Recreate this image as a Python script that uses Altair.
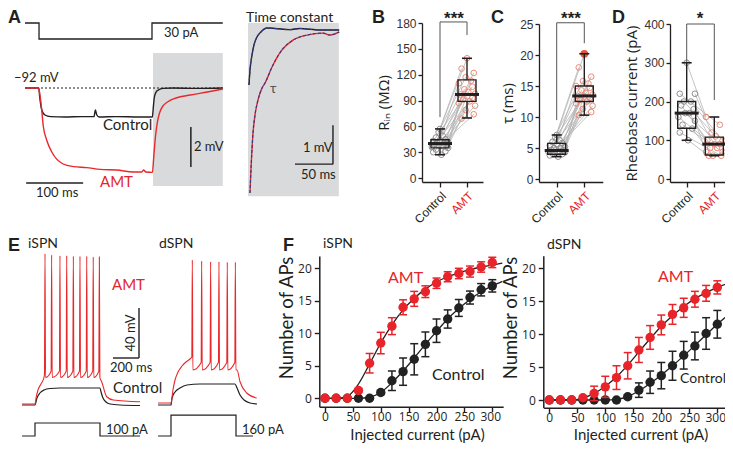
import altair as alt
import pandas as pd

M = 8
W, H = 717, 435
FONT = "Lato"
TFONT = "Open Sans"
AXFONT = "Liberation Sans"
RED = "#e3262b"
BLK = "#231f20"
GRAYBG = "#d9dadb"
NAVY = "#2e3a8c"

# ---------------- Panel A : hyperpolarising step ----------------
a_cmd_t = [0, 24.6, 24.6, 222.8, 222.8, 347]
a_cmd_i = [0, 0, -30, -30, 0, 0]
a_ctrl_t = [0, 24, 26, 29, 35, 45, 70, 100, 121, 123.5, 126, 130, 160, 200, 223.5, 225, 227, 230, 234, 242, 260, 300, 347]
a_ctrl_v = [-92.0, -92.0, -92.5, -93.05, -93.35, -93.43, -93.45, -93.43, -93.43, -93.1, -93.35, -93.45, -93.43,
            -93.45, -93.45, -93.0, -92.45, -92.2, -92.1, -92.02, -92.0, -92.02, -92.0]
a_amt_t = [0, 24, 26, 29, 32, 38, 47, 56, 67, 85, 108, 132, 161, 190, 205, 208, 212, 223.5, 226, 229, 232, 236,
           242, 250, 265, 290, 320, 347]
a_amt_v = [-92.0, -92.0, -92.3, -93.0, -93.9, -94.6, -95.2, -95.57, -95.8, -95.93, -95.98, -96.07, -96.1, -96.2,
           -96.2, -96.1, -96.2, -96.22, -95.4, -94.4, -93.75, -93.25, -92.9, -92.7, -92.5, -92.35, -92.2, -92.05]

# ---------------- Time constant inset ----------------
tc_ctrl_t = [1.3, 2.6, 5.3, 7.9, 11.8, 17, 25, 35.5, 55, 68, 95, 120]
tc_ctrl_v = [-1.41, -1.03, -0.64, -0.38, -0.18, -0.05, 0.05, 0.04, 0.01, 0.04, 0.0, 0.0]
tc_amt_t = [2.6, 3.9, 6.6, 9.2, 13.2, 18.4, 22.4, 31.6, 44.7, 59.2, 77.6, 98.7, 108, 120]
tc_amt_v = [-4.18, -3.59, -2.64, -2.18, -1.79, -1.49, -1.36, -0.95, -0.51, -0.26, -0.13, -0.08, -0.13, -0.05]

# ---------------- Panels B, C, D : paired values ----------------
groups = [0, 1]
rin_ctrl = [27, 30, 31, 33, 35, 36, 37, 38, 39, 39, 40, 41, 42, 43, 44, 45, 47, 49, 53, 57]
rin_amt = [69, 74, 79, 84, 87, 89, 91, 93, 95, 97, 98, 100, 103, 106, 110, 113, 117, 122, 127, 139]
rin_box = dict(lo=[27, 69.7], q1=[35, 89], med=[40, 97], q3=[44.5, 114], hi=[57, 139])

tau_ctrl = [3.6, 3.8, 4.0, 4.1, 4.3, 4.4, 4.5, 4.6, 4.6, 4.7, 4.9, 5.0, 5.2, 5.4, 5.6, 5.8, 6.0, 6.3, 6.7, 7.1]
tau_amt = [10.3, 10.8, 11.3, 11.8, 12.2, 12.5, 12.8, 13.1, 13.3, 13.4, 13.6, 13.9, 14.3, 14.7, 15.0, 15.4, 15.8,
           16.5, 18.0, 20.2]
tau_box = dict(lo=[3.6, 10.3], q1=[4.0, 12.5], med=[4.6, 13.4], q3=[5.75, 15.0], hi=[7.1, 20.2])

rheo_ctrl = [100, 120, 130, 140, 150, 160, 170, 170, 180, 190, 200, 200, 220, 220, 300]
rheo_amt = [60, 60, 60, 70, 70, 80, 80, 90, 90, 100, 100, 110, 120, 140, 160]
rheo_box = dict(lo=[100, 60], q1=[131, 62], med=[170, 90], q3=[200, 108], hi=[300, 160])

jit_c = [0.05, -0.25, 0.2, -0.15, 0.3, -0.3, 0.1, -0.05, 0.25, -0.2, 0.15, -0.1, 0.3, -0.25, 0.0, 0.2, -0.15, 0.1,
         -0.05, 0.0]
jit_a = [-0.2, 0.25, -0.05, 0.3, -0.3, 0.1, -0.15, 0.2, 0.0, -0.25, 0.3, 0.05, -0.1, 0.2, -0.3, 0.15, -0.05, 0.25,
         -0.2, 0.0]

# ---------------- Panel E : spike trains ----------------
e_i_stim_t = [0, 100, 100, 600, 600, 908]
e_i_stim = [0, 0, 100, 100, 0, 0]
e_d_stim_t = [0, 100, 100, 600, 600, 731]
e_d_stim = [0, 0, 160, 160, 0, 0]

e_i_ctrl_t = [0, 100, 115, 138, 169, 215, 292, 450, 600, 608, 623, 646, 677, 754, 908]
e_i_ctrl_v = [-80, -80, -74.4, -70.4, -68, -66.8, -66.4, -66.4, -66.4, -69.6, -74.4, -77.6, -79.2, -80, -80.4]
e_i_start_t = [0, 100, 108, 123, 146, 169]
e_i_start_v = [-79.2, -79.2, -74.4, -68, -63.2, -58]
e_i_spk = [177, 228, 292, 344, 395, 446, 498, 548, 595]
e_i_pre = [-55, -53, -53, -53, -53, -53, -53, -53, -53]
e_i_peak = [41, 40, 39.5, 39.5, 39, 39, 39, 38.5, 38.5]
e_i_trough = [-58, -58, -58, -58, -58, -58, -58, -58, -58]
e_i_end_t = [613, 652, 702, 908]
e_i_end_v = [-61.4, -73.4, -76, -77.4]

e_d_ctrl_t = [0, 100, 108, 131, 169, 223, 323, 592, 608, 631, 662, 708, 762]
e_d_ctrl_v = [-80, -80, -74.4, -69.6, -66.4, -64, -63.2, -63.2, -66.4, -72, -76, -78.4, -79.2]
e_d_start_t = [0, 100, 115, 131, 154, 185, 215, 246]
e_d_start_v = [-78.4, -78.4, -68, -60, -53.6, -48.8, -45.6, -43.2]
e_d_spk = [264, 336, 405, 469, 533, 595]
e_d_pre = [-41.5, -46, -46, -46, -46, -46]
e_d_peak = [36, 35.2, 34.6, 34.6, 34.2, 34.2]
e_d_trough = [-52, -52, -52, -52, -52, -52]
e_d_end_t = [608, 631, 682, 759]
e_d_end_v = [-52, -61.4, -70.4, -74.4]

# ---------------- Panel F : F-I curves ----------------
current = [0, 20, 40, 60, 80, 100, 120, 140, 160, 180, 200, 220, 240, 260, 280, 300]
fi_i_amt = [0, 0, 0, 1.2, 5.4, 8.5, 11.1, 14.0, 15.3, 16.4, 17.7, 18.7, 19.2, 19.5, 20.2, 20.9]
fi_i_amt_sem = [0, 0, 0, 0.3, 1.5, 1.65, 1.3, 1.15, 1.15, 0.9, 0.8, 0.77, 0.8, 0.85, 0.8, 0.8]
fi_i_ctrl = [0, 0, 0, 0, 0, 0.9, 2.7, 4.1, 6.0, 8.3, 10.4, 12.2, 13.9, 15.5, 16.7, 17.3]
fi_i_ctrl_sem = [0, 0, 0, 0, 0, 0.3, 1.5, 2.1, 2.4, 1.9, 1.8, 1.4, 1.3, 1.0, 0.95, 0.95]
fi_d_amt = [0, 0, 0, 0.35, 1.0, 2.0, 3.4, 5.2, 7.6, 9.5, 11.4, 13.0, 14.0, 15.3, 16.2, 17.1]
fi_d_amt_sem = [0, 0, 0, 0.3, 1.1, 1.6, 1.8, 2.0, 1.9, 1.8, 1.5, 1.5, 1.45, 1.2, 1.2, 1.0]
fi_d_ctrl = [0, 0, 0, 0, 0, 0, 0, 0.5, 1.5, 2.7, 3.7, 5.2, 6.8, 8.2, 10.1, 11.5]
fi_d_ctrl_sem = [0, 0, 0, 0, 0, 0, 0, 0.3, 1.1, 1.7, 2.0, 2.2, 2.1, 2.1, 2.4, 2.1]

fit_x = [0, 20, 40, 60, 80, 100, 120, 140, 160, 180, 200, 220, 240, 260, 280, 300, 318]
fit_i_amt = [0, 0, 0.3, 2.2, 5.3, 8.5, 11.3, 13.6, 15.4, 16.8, 17.9, 18.7, 19.3, 19.8, 20.2, 20.5, 20.8]
fit_i_ctrl = [0, 0, 0, 0, 0.2, 0.9, 2.4, 4.2, 6.2, 8.3, 10.3, 12.2, 13.8, 15.2, 16.4, 17.3, 18.0]
fit_d_amt = [0, 0, 0, 0.3, 1.0, 2.1, 3.5, 5.3, 7.3, 9.3, 11.2, 12.8, 14.2, 15.4, 16.3, 17.1, 17.7]
fit_d_ctrl = [0, 0, 0, 0, 0, 0, 0.1, 0.5, 1.4, 2.5, 3.8, 5.2, 6.7, 8.3, 9.9, 11.5, 12.8]


# ---------------- helpers ----------------
def sc(d0, d1, v0, p0, v1, p1):
    """linear scale with domain [d0,d1]; value v0 sits at page pixel p0, v1 at p1"""
    k = (p1 - p0) / (v1 - v0)
    return alt.Scale(domain=[d0, d1], range=[p0 + (d0 - v0) * k - M, p0 + (d1 - v0) * k - M],
                     nice=False, zero=False, padding=0)


def trace(ts, vs, xs, ys, color, width=1.2, dash=None, interp="monotone"):
    df = pd.DataFrame({"t": ts, "v": vs, "i": list(range(len(ts)))})
    mk = dict(color=color, strokeWidth=width, interpolate=interp)
    if dash:
        mk["strokeDash"] = dash
    return alt.Chart(df).mark_line(**mk).encode(
        x=alt.X("t:Q", scale=xs, axis=None),
        y=alt.Y("v:Q", scale=ys, axis=None),
        order="i:Q")


def segs(x1, x2, y1, y2, xs, ys, color=BLK, width=1.2, dash=None):
    df = pd.DataFrame({"x": x1, "x2": x2, "y": y1, "y2": y2})
    mk = dict(color=color, strokeWidth=width)
    if dash:
        mk["strokeDash"] = dash
    return alt.Chart(df).mark_rule(**mk).encode(
        x=alt.X("x:Q", scale=xs, axis=None), x2="x2:Q",
        y=alt.Y("y:Q", scale=ys, axis=None), y2="y2:Q")


def rect(x1, x2, y1, y2, xs, ys, color):
    df = pd.DataFrame({"x": [x1], "x2": [x2], "y": [y1], "y2": [y2]})
    return alt.Chart(df).mark_rect(color=color).encode(
        x=alt.X("x:Q", scale=xs, axis=None), x2="x2:Q",
        y=alt.Y("y:Q", scale=ys, axis=None), y2="y2:Q")


def spike_trace(t0, v0, spikes, pre, peak, trough, t1, v1):
    ts, vs = list(t0), list(v0)
    for k, s in enumerate(spikes):
        ts += [s - 4, s, s + 4]
        vs += [pre[k], peak[k], trough[k]]
    return ts + list(t1), vs + list(v1)


def box_panel(ctrl, amt, stats, xs, ys, yvals, ypix, xpix_axis_y, ytitle, brk, big_amt=None):
    layers = []
    n = len(ctrl)
    pairs = pd.DataFrame({
        "pair": list(range(n)) * 2,
        "x": [groups[0] + j for j in jit_c[:n]] + [groups[1] + j for j in jit_a[:n]],
        "v": list(ctrl) + list(amt)})
    layers.append(alt.Chart(pairs).mark_line(color="#b5b5b5", strokeWidth=0.8).encode(
        x=alt.X("x:Q", scale=xs, axis=None), y=alt.Y("v:Q", scale=ys, axis=None), detail="pair:N"))
    pc = pairs.iloc[:n]
    pa = pairs.iloc[n:]
    layers.append(alt.Chart(pc).mark_point(shape="circle", filled=False, size=32, strokeWidth=1,
                                           color="#8f8f8f", opacity=1).encode(
        x=alt.X("x:Q", scale=xs, axis=None), y=alt.Y("v:Q", scale=ys, axis=None)))
    layers.append(alt.Chart(pa).mark_point(shape="circle", filled=False, size=32, strokeWidth=1,
                                           color="#ea8a78", opacity=1).encode(
        x=alt.X("x:Q", scale=xs, axis=None), y=alt.Y("v:Q", scale=ys, axis=None)))
    if big_amt is not None:
        layers.append(alt.Chart(pd.DataFrame({"x": [1], "v": [big_amt]})).mark_circle(
            size=60, color="#e8553f", opacity=1).encode(
            x=alt.X("x:Q", scale=xs, axis=None), y=alt.Y("v:Q", scale=ys, axis=None)))
    bx = pd.DataFrame(dict(g=groups, **stats))
    enc_x = alt.X("g:Q", scale=xs, axis=None)
    layers.append(alt.Chart(bx).mark_rule(color=BLK, strokeWidth=1.4).encode(
        x=enc_x, y=alt.Y("lo:Q", scale=ys, axis=None), y2="q1:Q"))
    layers.append(alt.Chart(bx).mark_rule(color=BLK, strokeWidth=1.4).encode(
        x=enc_x, y=alt.Y("q3:Q", scale=ys, axis=None), y2="hi:Q"))
    for f in ["lo", "hi"]:
        layers.append(alt.Chart(bx).mark_tick(orient="horizontal", size=10, thickness=1.6, color=BLK,
                                              opacity=1).encode(
            x=enc_x, y=alt.Y(f + ":Q", scale=ys, axis=None)))
    yaxis = alt.Axis(orient="left", offset=-(ypix - M), values=yvals, title=ytitle, tickSize=4,
                     labelFontSize=12, labelFont=AXFONT, labelColor="#333333", labelPadding=2,
                     domainWidth=1.3, tickWidth=1.3, titleFontSize=15, titleFont=TFONT, titlePadding=4,
                     labelFlush=False)
    xaxis = alt.Axis(orient="bottom", offset=(xpix_axis_y - M) - H, values=[0, 1],
                     labelExpr="datum.value == 0 ? 'Control' : 'AMT'", labelAngle=-45,
                     labelColor={"condition": {"test": "datum.value == 1", "value": RED}, "value": BLK},
                     labelFontSize=12, labelFont=AXFONT, tickSize=5, domainWidth=1.3, tickWidth=1.3,
                     title=None, labelFlush=False, labelPadding=3)
    layers.append(alt.Chart(bx).mark_bar(size=18, fillOpacity=0, stroke=BLK, strokeWidth=1.4).encode(
        x=alt.X("g:Q", scale=xs, axis=xaxis), y=alt.Y("q1:Q", scale=ys, axis=yaxis), y2="q3:Q"))
    layers.append(alt.Chart(bx).mark_tick(orient="horizontal", size=24, thickness=3, color=BLK,
                                          opacity=1).encode(
        x=enc_x, y=alt.Y("med:Q", scale=ys, axis=None)))
    top, left_end, right_end = brk
    layers.append(segs([0, 0, 1], [1, 0, 1], [top, top, top], [top, left_end, right_end], xs, ys,
                       color="#555555", width=1))
    return layers


def fi_panel(cm, ce, am, ae, fc, fa, xs, ys, ypix, xaxis_y, xtitle_cx, ytitle_cy):
    layers = []
    yaxis = alt.Axis(orient="left", offset=-(ypix - M), values=[0, 5, 10, 15, 20], title="Number of APs",
                     tickSize=5, labelFontSize=12, labelFont=TFONT, labelPadding=3, domainWidth=1.5,
                     tickWidth=1.4, titleFontSize=18.5, titleFont="Lato", titlePadding=1, labelFlush=False,
                     titleY=ytitle_cy - M)
    xaxis = alt.Axis(orient="bottom", offset=(xaxis_y - M) - H, values=[0, 50, 100, 150, 200, 250, 300],
                     title="Injected current (pA)", tickSize=5, labelFontSize=12, labelFont=TFONT,
                     labelPadding=0, domainWidth=1.5, tickWidth=1.4, titleFontSize=15, titleFont="Lato",
                     labelFlush=False, titleX=xtitle_cx - M, titleY=439.5 - xaxis_y,
                     titleBaseline="alphabetic",
                     labelOffset={"condition": {"test": "datum.value == 300", "value": -2}, "value": 0})
    fit = pd.DataFrame({"x": fit_x, "c": fc, "a": fa})
    layers.append(alt.Chart(fit).mark_line(color=BLK, strokeWidth=1.3, interpolate="monotone").encode(
        x=alt.X("x:Q", scale=xs, axis=xaxis), y=alt.Y("c:Q", scale=ys, axis=yaxis)))
    layers.append(alt.Chart(fit).mark_line(color=BLK, strokeWidth=1.3, interpolate="monotone").encode(
        x=alt.X("x:Q", scale=xs, axis=None), y=alt.Y("a:Q", scale=ys, axis=None)))
    for mean, sem, col in [(cm, ce, "#222222"), (am, ae, "#e8242a")]:
        df = pd.DataFrame({"x": current, "m": mean,
                           "lo": [m - e for m, e in zip(mean, sem)],
                           "hi": [m + e for m, e in zip(mean, sem)]})
        ex = alt.X("x:Q", scale=xs, axis=None)
        layers.append(alt.Chart(df).mark_rule(color=col, strokeWidth=1.5).encode(
            x=ex, y=alt.Y("lo:Q", scale=ys, axis=None), y2="hi:Q"))
        for f in ["lo", "hi"]:
            layers.append(alt.Chart(df).mark_tick(orient="horizontal", size=8, thickness=1.5, color=col,
                                                  opacity=1).encode(
                x=ex, y=alt.Y(f + ":Q", scale=ys, axis=None)))
        layers.append(alt.Chart(df).mark_circle(size=88, color=col, opacity=1).encode(
            x=ex, y=alt.Y("m:Q", scale=ys, axis=None)))
    return layers


layers = []

# ---- Panel A
XA = sc(0, 350, 0, 25, 100, 82)
YA = sc(-97, -90, -92, 88, -94, 128)
YAC = sc(-30, 0, 0, 23, -30, 39)
layers.append(rect(224.6, 347, -90.25, -96.9, XA, YA, GRAYBG))
layers.append(segs([0], [347], [-92], [-92], XA, YA, color=BLK, width=1, dash=[2, 2]))
layers.append(trace(a_cmd_t, a_cmd_i, XA, YAC, BLK, width=1.3, interp="linear"))
layers.append(trace(a_ctrl_t, a_ctrl_v, XA, YA, BLK, width=1.4))
layers.append(trace(a_amt_t, a_amt_v, XA, YA, "#e8282b", width=1.4))
layers.append(segs([2, 291], [102, 291], [-96.75, -93.95], [-96.75, -95.95], XA, YA, color=BLK, width=1.5))

# ---- Time constant inset
XT = sc(0, 120, 0, 248, 50, 286)
YT = sc(-4.4, 0.2, 0, 30, -1, 69)
layers.append(rect(0, 119.5, 0.18, -4.26, XT, YT, GRAYBG))
layers.append(trace(tc_ctrl_t, tc_ctrl_v, XT, YT, BLK, width=1.4))
layers.append(trace(tc_amt_t, tc_amt_v, XT, YT, "#e8282b", width=1.4))
layers.append(trace(tc_ctrl_t, tc_ctrl_v, XT, YT, NAVY, width=1.1, dash=[3, 2]))
layers.append(trace(tc_amt_t, tc_amt_v, XT, YT, NAVY, width=1.1, dash=[3, 2]))
layers.append(segs([111.8, 61.8], [111.8, 111.8], [-2.44, -3.44], [-3.44, -3.44], XT, YT, color=BLK, width=1.4))

# ---- Panels B, C, D
XB = sc(-0.667, 1.593, 0, 440, 1, 467)
YB = sc(-4.5, 180, 0, 178, 180, 23)
layers += box_panel(rin_ctrl, rin_amt, rin_box, XB, YB, [0, 30, 60, 90, 120, 150, 180], 422, 182,
                    "R\u1d62\u2099 (M\u03a9)", (181.2, 70.8, 166))
XC = sc(-0.64, 1.67, 0, 556.7, 1, 584.3)
YC = sc(-0.5, 25, 0, 179, 25, 24)
layers += box_panel(tau_ctrl, tau_amt, tau_box, XC, YC, [0, 5, 10, 15, 20, 25], 539, 182,
                    "\u03c4 (ms)", (25.2, 9.5, 21.9), big_amt=20.2)
XD = sc(-0.6, 1.57, 0, 686.7, 1, 714.3)
YD = sc(-8, 400, 0, 179, 400, 24)
layers += box_panel(rheo_ctrl, rheo_amt, rheo_box, XD, YD, [0, 100, 200, 300, 400], 670, 182,
                    "Rheobase current (pA)", (400, 302, 204))

# ---- Panel E
XE1 = sc(0, 910, 0, 22, 200, 48)
XE2 = sc(0, 780, 0, 158, 200, 184)
YE = sc(-85, 45, -80, 405, -40, 355)
YS = sc(0, 160, 0, 436, 100, 423)
e_i_amt_t, e_i_amt_v = spike_trace(e_i_start_t, e_i_start_v, e_i_spk, e_i_pre, e_i_peak, e_i_trough,
                                   e_i_end_t, e_i_end_v)
e_d_amt_t, e_d_amt_v = spike_trace(e_d_start_t, e_d_start_v, e_d_spk, e_d_pre, e_d_peak, e_d_trough,
                                   e_d_end_t, e_d_end_v)
layers.append(trace(e_i_ctrl_t, e_i_ctrl_v, XE1, YE, BLK, width=1.2))
layers.append(trace(e_i_amt_t, e_i_amt_v, XE1, YE, "#e8282b", width=1.1))
layers.append(trace(e_d_ctrl_t, e_d_ctrl_v, XE2, YE, BLK, width=1.2))
layers.append(trace(e_d_amt_t, e_d_amt_v, XE2, YE, "#e8282b", width=1.1))
layers.append(trace(e_i_stim_t, e_i_stim, XE1, YS, BLK, width=1.2, interp="linear"))
layers.append(trace(e_d_stim_t, e_d_stim, XE2, YS, BLK, width=1.2, interp="linear"))
layers.append(segs([700, 900], [900, 900], [-42.4, -2.4], [-42.4, -42.4], XE1, YE, color=BLK, width=1.4))

# ---- Panel F
XF1 = sc(-10.2, 319.5, 0, 325, 300, 492.3)
YF1 = sc(-1.3, 21.9, 0, 398.3, 20, 268.3)
XF2 = sc(-10.2, 318.6, 0, 549.3, 300, 717.3)
YF2 = sc(-1.17, 21.9, 0, 400, 20, 268.3)
layers += fi_panel(fi_i_ctrl, fi_i_ctrl_sem, fi_i_amt, fi_i_amt_sem, fit_i_ctrl, fit_i_amt, XF1, YF1,
                   319.3, 406.7, 417, 317.5)
layers += fi_panel(fi_d_ctrl, fi_d_ctrl_sem, fi_d_amt, fi_d_amt_sem, fit_d_ctrl, fit_d_amt, XF2, YF2,
                   543.3, 407.7, 640.5, 317.5)

# ---- text annotations (page pixel positions)
texts = [
    ("A", 8, 23, 18, BLK, "left", "bold", 0),
    ("30 pA", 164, 37, 13, BLK, "left", "normal", 0),
    ("\u221292 mV", 14, 82, 13, BLK, "left", "normal", 0),
    ("Control", 103, 130, 15, BLK, "left", "normal", 0),
    ("AMT", 100, 187, 15, RED, "left", "normal", 0),
    ("100 ms", 36, 197, 13, BLK, "left", "normal", 0),
    ("2 mV", 194, 151, 13, BLK, "left", "normal", 0),
    ("Time constant", 246, 22, 14, BLK, "left", "normal", 0),
    ("\u03c4", 270, 93, 14, "#555555", "left", "normal", 0),
    ("1 mV", 303, 152, 13, BLK, "left", "normal", 0),
    ("50 ms", 301, 179, 13, BLK, "left", "normal", 0),
    ("B", 372, 23, 18, BLK, "left", "bold", 0),
    ("***", 454, 24, 17, BLK, "center", "bold", 0),
    ("C", 491, 23, 18, BLK, "left", "bold", 0),
    ("***", 571, 24, 17, BLK, "center", "bold", 0),
    ("D", 612, 23, 18, BLK, "left", "bold", 0),
    ("*", 700, 24, 17, BLK, "center", "bold", 0),
    ("E", 8, 251, 18, BLK, "left", "bold", 0),
    ("iSPN", 28, 248, 14, BLK, "left", "normal", 0),
    ("dSPN", 159, 248, 14, BLK, "left", "normal", 0),
    ("AMT", 112, 290, 15, RED, "left", "normal", 0),
    ("Control", 113, 393, 15, BLK, "left", "normal", 0),
    ("40 mV", 135, 333, 13, BLK, "center", "normal", 270),
    ("200 ms", 110, 372, 13, BLK, "left", "normal", 0),
    ("100 pA", 106, 434, 13, BLK, "left", "normal", 0),
    ("160 pA", 242, 434, 13, BLK, "left", "normal", 0),
    ("F", 283, 251, 18, BLK, "left", "bold", 0),
    ("iSPN", 323, 248, 14, BLK, "left", "normal", 0),
    ("dSPN", 547, 249, 14, BLK, "left", "normal", 0),
    ("AMT", 388, 283, 16, RED, "left", "normal", 0),
    ("Control", 432, 380, 16, BLK, "left", "normal", 0),
    ("AMT", 658, 282, 16, RED, "left", "normal", 0),
    ("Control", 680, 383, 14, BLK, "left", "normal", 0),
]
tdf = pd.DataFrame(texts, columns=["text", "px", "py", "size", "color", "align", "weight", "angle"])
tdf["px"] = tdf["px"] - M
tdf["py"] = tdf["py"] - M
for (al, wt), sub in tdf.groupby(["align", "weight"]):
    fnt = AXFONT if wt == "bold" else FONT
    layers.append(alt.Chart(sub.reset_index(drop=True)).mark_text(
        align=al, fontWeight=wt, font=fnt, baseline="alphabetic").encode(
        x=alt.X("px:Q", scale=None, axis=None),
        y=alt.Y("py:Q", scale=None, axis=None),
        text="text:N",
        color=alt.Color("color:N", scale=None),
        size=alt.Size("size:Q", scale=None),
        angle=alt.Angle("angle:Q", scale=None)))

chart = alt.layer(*layers).resolve_scale(x="independent", y="independent").properties(
    width=W, height=H, autosize=alt.AutoSizeParams(type="none"), padding=0
).configure_view(stroke=None).configure_axis(
    grid=False, domainColor=BLK, tickColor=BLK, labelColor=BLK, titleColor=BLK,
    labelFont=FONT, titleFont=FONT, titleFontWeight="normal")

chart.save("out.html", embed_options={"renderer": "svg", "actions": False})
